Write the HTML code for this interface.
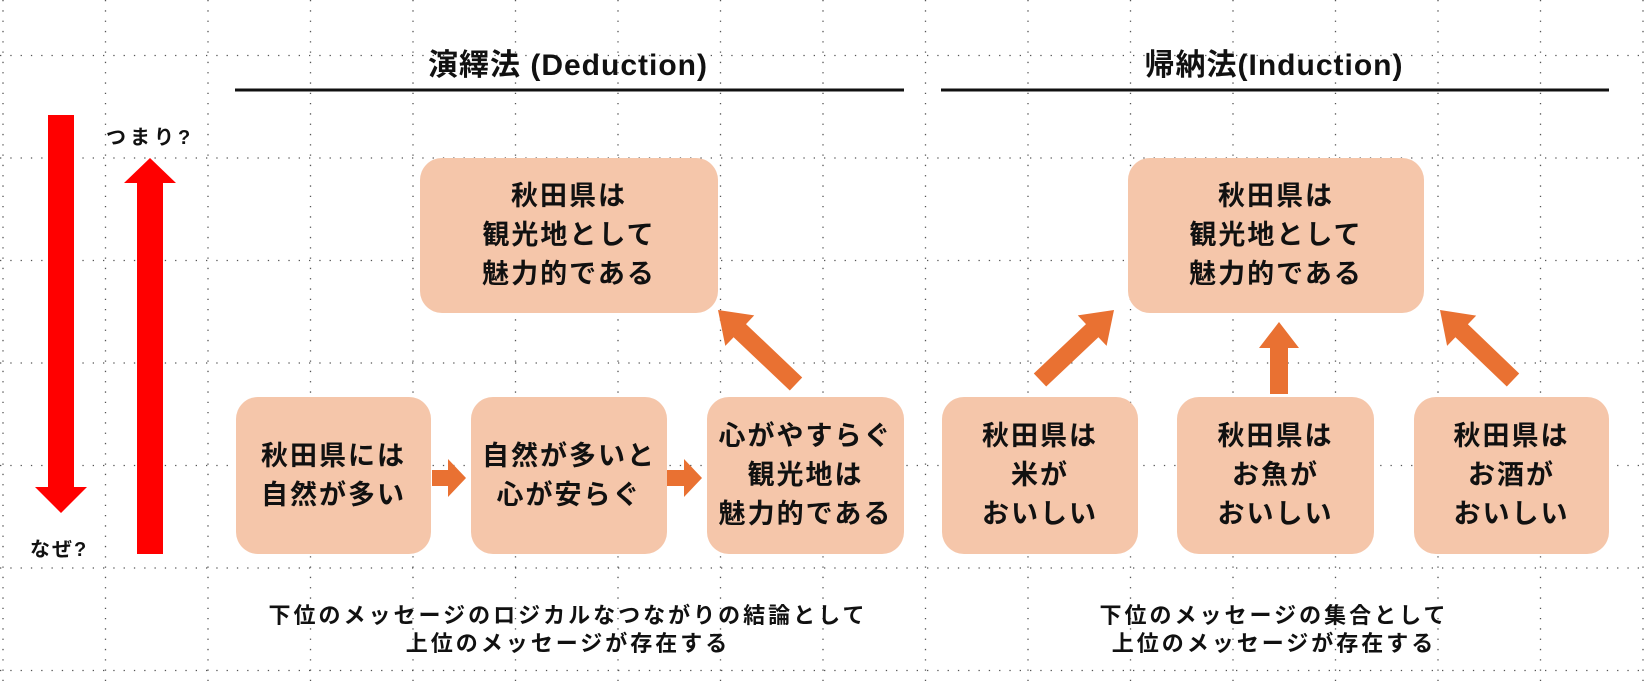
<!DOCTYPE html>
<html><head><meta charset="utf-8"><style>
body{margin:0;width:1648px;height:681px;overflow:hidden;background:#fff;font-family:"Liberation Sans","Noto Sans CJK JP",sans-serif;}
svg{position:absolute;left:0;top:0}
.t{position:absolute;font-weight:bold;color:#111;text-align:center;white-space:nowrap}
.box{position:absolute;background:#f5c6aa;border-radius:22px;display:flex;align-items:center;justify-content:center;text-align:center;font-size:27px;letter-spacing:2px;line-height:39px;font-weight:bold;color:#111;white-space:nowrap}
</style></head><body>
<svg width="1648" height="681" id="s">
<g stroke="#555" stroke-width="1.3" stroke-dasharray="1.3 9" id="grid"></g>
<line x1="235" y1="90" x2="904" y2="90" stroke="#111" stroke-width="3"/>
<line x1="941" y1="90" x2="1609" y2="90" stroke="#111" stroke-width="3"/>
<polygon fill="#ff0000" points="48,115 74,115 74,487 87,487 61,513 35,487 48,487"/>
<polygon fill="#ff0000" points="137,554 163,554 163,183 176,183 150,158 124,183 137,183"/>
<g id="arr" fill="#e97132"></g>
</svg>
<div class="t" style="left:318px;width:500px;top:40px;font-size:30px;letter-spacing:1px">演繹法 (Deduction)</div>
<div class="t" style="left:1024px;width:500px;top:40px;font-size:30px;letter-spacing:1px">帰納法(Induction)</div>
<div class="t" style="left:106px;top:121px;font-size:20px;letter-spacing:4px">つまり?</div>
<div class="t" style="left:30px;top:533px;font-size:20px;letter-spacing:2px">なぜ?</div>
<div class="box" style="left:420px;top:158px;width:298px;height:155px">秋田県は<br>観光地として<br>魅力的である</div>
<div class="box" style="left:1128px;top:158px;width:296px;height:155px">秋田県は<br>観光地として<br>魅力的である</div>
<div class="box" style="left:236px;top:397px;width:195px;height:157px">秋田県には<br>自然が多い</div>
<div class="box" style="left:471px;top:397px;width:196px;height:157px">自然が多いと<br>心が安らぐ</div>
<div class="box" style="left:707px;top:397px;width:197px;height:157px">心がやすらぐ<br>観光地は<br>魅力的である</div>
<div class="box" style="left:942px;top:397px;width:196px;height:157px">秋田県は<br>米が<br>おいしい</div>
<div class="box" style="left:1177px;top:397px;width:197px;height:157px">秋田県は<br>お魚が<br>おいしい</div>
<div class="box" style="left:1414px;top:397px;width:195px;height:157px">秋田県は<br>お酒が<br>おいしい</div>
<div class="t" style="left:218px;width:700px;top:602px;font-size:22px;letter-spacing:3px;line-height:28px">下位のメッセージのロジカルなつながりの結論として<br>上位のメッセージが存在する</div>
<div class="t" style="left:924px;width:700px;top:602px;font-size:22px;letter-spacing:3px;line-height:28px">下位のメッセージの集合として<br>上位のメッセージが存在する</div>
<script>
var g=document.getElementById('grid'),h='';
for(var x=3;x<1648;x+=102.5)h+='<line x1="'+x+'" y1="0" x2="'+x+'" y2="681"/>';
for(var y=55.5;y<681;y+=102.5)h+='<line x1="0" y1="'+y+'" x2="1648" y2="'+y+'"/>';
g.innerHTML=h;
function arrow(x1,y1,x2,y2,sw,hl,hw){
var dx=x2-x1,dy=y2-y1,L=Math.hypot(dx,dy),ux=dx/L,uy=dy/L,px=-uy,py=ux;
var bx=x2-ux*hl,by=y2-uy*hl;
var p=[[x1+px*sw,y1+py*sw],[bx+px*sw,by+py*sw],[bx+px*hw,by+py*hw],[x2,y2],[bx-px*hw,by-py*hw],[bx-px*sw,by-py*sw],[x1-px*sw,y1-py*sw]];
return '<polygon points="'+p.map(function(q){return q[0].toFixed(1)+','+q[1].toFixed(1)}).join(' ')+'"/>';}
var a='';
a+=arrow(432,478,466,478,8,18,19);
a+=arrow(667,478,702,478,8,18,19);
a+=arrow(796,384,718,310,9,30,21);
a+=arrow(1040,380,1114,310,9,30,21);
a+=arrow(1279,394,1279,322,9,26,20);
a+=arrow(1513,380,1440,310,9,30,21);
document.getElementById('arr').innerHTML=a;
</script>
</body></html>
